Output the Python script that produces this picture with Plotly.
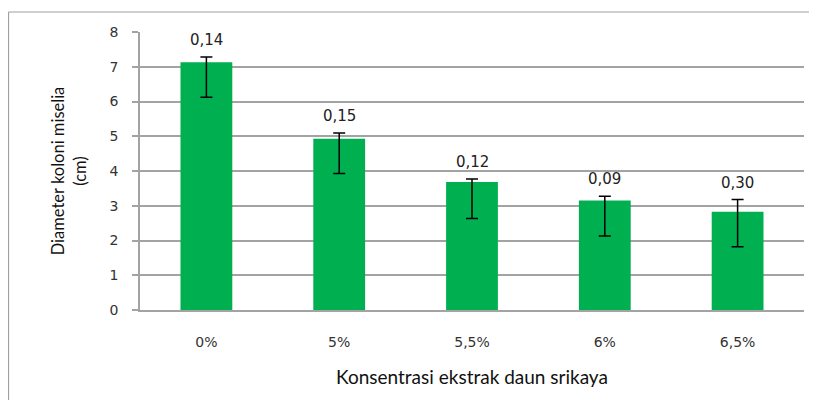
import plotly.graph_objects as go

categories = ["0%", "5%", "5,5%", "6%", "6,5%"]
means = [7.13, 4.93, 3.68, 3.15, 2.83]
err_plus = [0.15, 0.16, 0.09, 0.12, 0.35]
err_minus = [1.01, 1.00, 1.05, 1.02, 1.01]
sd_labels = ["0,14", "0,15", "0,12", "0,09", "0,30"]
y_ticks = [0, 1, 2, 3, 4, 5, 6, 7, 8]

# page has an 8px body margin, so the figure is 8px smaller and shifted
W, H = 809, 392
ML, MR, MT, MB = 132, 13, 24, 90
pw, ph = W - ML - MR, H - MT - MB

fig = go.Figure()
fig.add_trace(go.Bar(
    x=categories, y=means,
    marker=dict(color="#00b050", line=dict(width=0)),
    error_y=dict(type="data", symmetric=False, array=err_plus, arrayminus=err_minus,
                 color="#000000", thickness=1.5, width=6),
    hoverinfo="skip",
))

for c, m, p, lab in zip(categories, means, err_plus, sd_labels):
    fig.add_annotation(x=c, y=m + p, text=lab, showarrow=False, yanchor="bottom",
                       yshift=6, font=dict(family="DejaVu Sans", size=15, color="#222"))

gray = "#a3a3a3"
fig.update_layout(
    width=W, height=H,
    margin=dict(l=ML, r=MR, t=MT, b=MB, pad=0, autoexpand=False),
    paper_bgcolor="white", plot_bgcolor="white",
    bargap=0.61, showlegend=False,
    font=dict(family="DejaVu Sans", size=13, color="#333"),
    xaxis=dict(
        showline=True, linecolor=gray, linewidth=1.5, showgrid=False,
        ticks="", ticklabelstandoff=18, automargin=False,
        tickfont=dict(family="DejaVu Sans", size=14, color="#333"),
        title=dict(text="Konsentrasi ekstrak daun srikaya", standoff=22,
                   font=dict(family="Lato", size=19, color="#111")),
    ),
    yaxis=dict(
        range=[0, 8], tickvals=y_ticks, showline=True, linecolor=gray, linewidth=1.5,
        showgrid=True, gridcolor=gray, gridwidth=1.5, automargin=False,
        ticks="outside", ticklen=6, tickcolor=gray, tickwidth=1.5,
        ticklabelstandoff=11, zeroline=False,
        tickfont=dict(family="DejaVu Sans", size=14, color="#333"),
        title=dict(text="Diameter koloni miselia<br>(cm)", standoff=19,
                   font=dict(family="Lato", size=16.5, color="#111")),
    ),
)

# outer chart border (top and left edges visible)
x0 = (0.5 - ML) / pw
y1 = 1 + (MT - 4) / ph
fig.add_shape(type="line", xref="paper", yref="paper", x0=x0, x1=(W + 5 - ML) / pw,
              y0=y1, y1=y1, line=dict(color="#a0a0a0", width=1.2))
fig.add_shape(type="line", xref="paper", yref="paper", x0=x0, x1=x0,
              y0=y1, y1=-(MB + 5) / ph, line=dict(color="#a0a0a0", width=1.2))

fig.write_html("out.html")
